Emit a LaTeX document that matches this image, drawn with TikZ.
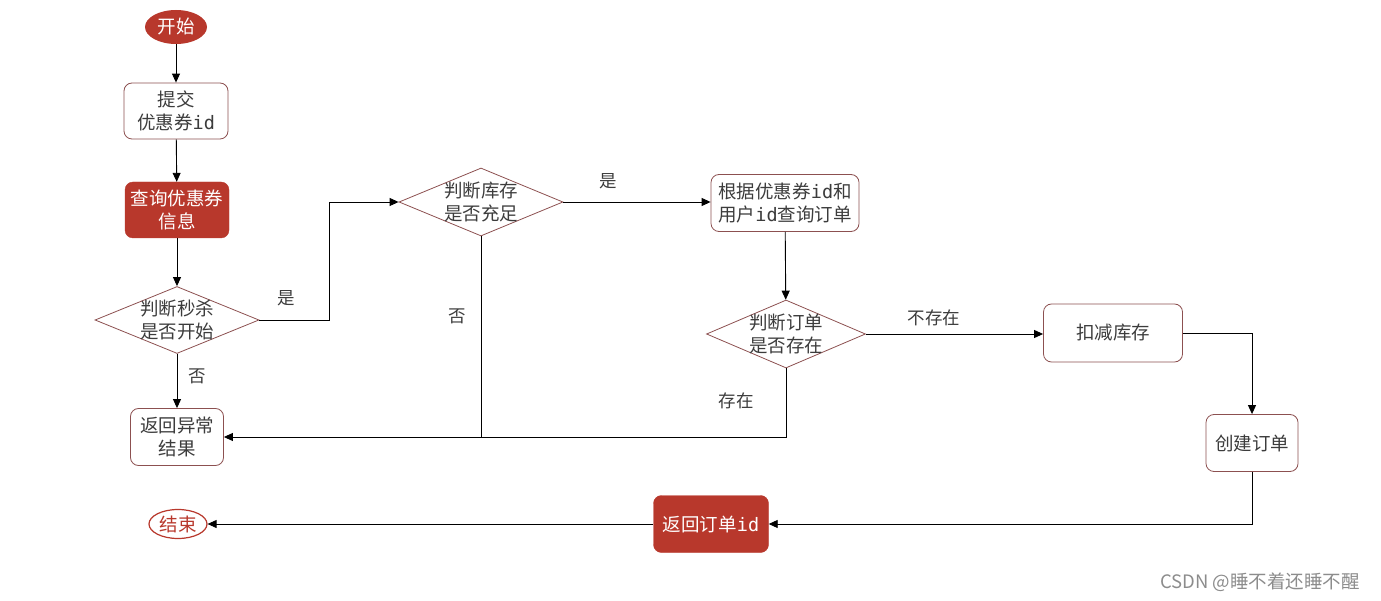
\documentclass[tikz,border=0pt]{standalone}
\usepackage{fontspec}
\setmainfont{Noto Sans CJK SC}
\newfontfamily\monofont{DejaVu Sans Mono}
\usetikzlibrary{shapes.geometric,arrows.meta}
\definecolor{accent}{RGB}{184,56,44}
\definecolor{edgec}{RGB}{140,80,80}
\definecolor{txt}{RGB}{60,60,60}
\tikzset{
  base/.style={font=\fontsize{18.5}{23}\selectfont, text=txt, align=center, inner sep=0pt},
  plainbox/.style={base, draw=edgec, line width=0.8pt, fill=white, rounded corners=8pt},
  redbox/.style={base, draw=accent, fill=accent, text=white, rounded corners=8pt},
  decision/.style={draw=edgec, line width=0.8pt, diamond, inner sep=0pt},
  dtext/.style={base},
  conn/.style={draw=black, line width=0.9pt, -{Triangle[length=9pt,width=8pt]}},
  lbl/.style={font=\fontsize{17.5}{20}\selectfont, text=txt, inner sep=0pt},
}
\newcommand{\ID}{{\monofont id}}
\begin{document}
\begin{tikzpicture}[x=1pt,y=-1pt]
\useasboundingbox (0,0) rectangle (1381,601);
% nodes
\node[ellipse, fill=accent, minimum width=62pt, minimum height=34pt, base, text=white] (start) at (176,27) {开始};
\node[plainbox, minimum width=104pt, minimum height=56pt] (submit) at (176,111) {提交\\优惠券\ID};
\node[redbox, minimum width=104pt, minimum height=56pt] (query) at (177,210) {查询优惠券\\信息};
\node[decision, minimum width=164pt, minimum height=67pt,
      label={[dtext]center:判断秒杀\\是否开始}] (d1) at (177,320) {};
\node[plainbox, minimum width=93pt, minimum height=57pt] (err) at (177,437) {返回异常\\结果};
\node[ellipse, draw=accent, line width=1.2pt, fill=white, minimum width=58pt, minimum height=29pt, base, text=accent] (end) at (178,524) {结束};
\node[decision, minimum width=164pt, minimum height=68pt,
      label={[dtext]center:判断库存\\是否充足}] (d2) at (481,202) {};
\node[plainbox, minimum width=148pt, minimum height=57pt] (find) at (785,203) {根据优惠券\ID 和\\用户\ID 查询订单};
\node[decision, minimum width=159pt, minimum height=68pt,
      label={[dtext]center:判断订单\\是否存在}] (d3) at (786,334) {};
\node[plainbox, minimum width=139pt, minimum height=58pt] (dec) at (1113,333) {扣减库存};
\node[plainbox, minimum width=92pt, minimum height=57pt] (create) at (1252,443) {创建订单};
\node[redbox, minimum width=115pt, minimum height=57pt] (ret) at (711,524) {返回订单\ID};
% connectors
\draw[conn] (start) -- (submit);
\draw[conn] (submit) -- (query);
\draw[conn] (query) -- (d1);
\draw[conn] (d1.east) -- (329,320) -- (329,202) -- (d2.west);
\draw[conn] (d1) -- (err);
\draw[conn] (d2.east) -- (find.west |- d2.east);
\coordinate (j2) at (481,437);
\draw[conn] (d2.south) -- (j2) -- (err.east);
\draw[conn] (find) -- (d3);
\draw[conn] (d3.east) -- (dec.west |- d3.east);
\coordinate (j3) at (786,437);
\draw[line width=0.9pt] (d3.south) -- (j3) -- (j2);
\draw[conn] (dec.east) -| (create.north);
\draw[conn] (create.south) |- (ret.east);
\draw[conn] (ret) -- (end);
% labels
\node[lbl] at (286,298) {是};
\node[lbl] at (197,376) {否};
\node[lbl] at (608,181) {是};
\node[lbl] at (457,316) {否};
\node[lbl] at (934,318) {不存在};
\node[lbl] at (736,401) {存在};
\node[font=\fontsize{18.5}{22}\selectfont, text=black!45, inner sep=0pt] (wm) at (1260,582) {CSDN @睡不着还睡不醒};
\end{tikzpicture}
\end{document}
